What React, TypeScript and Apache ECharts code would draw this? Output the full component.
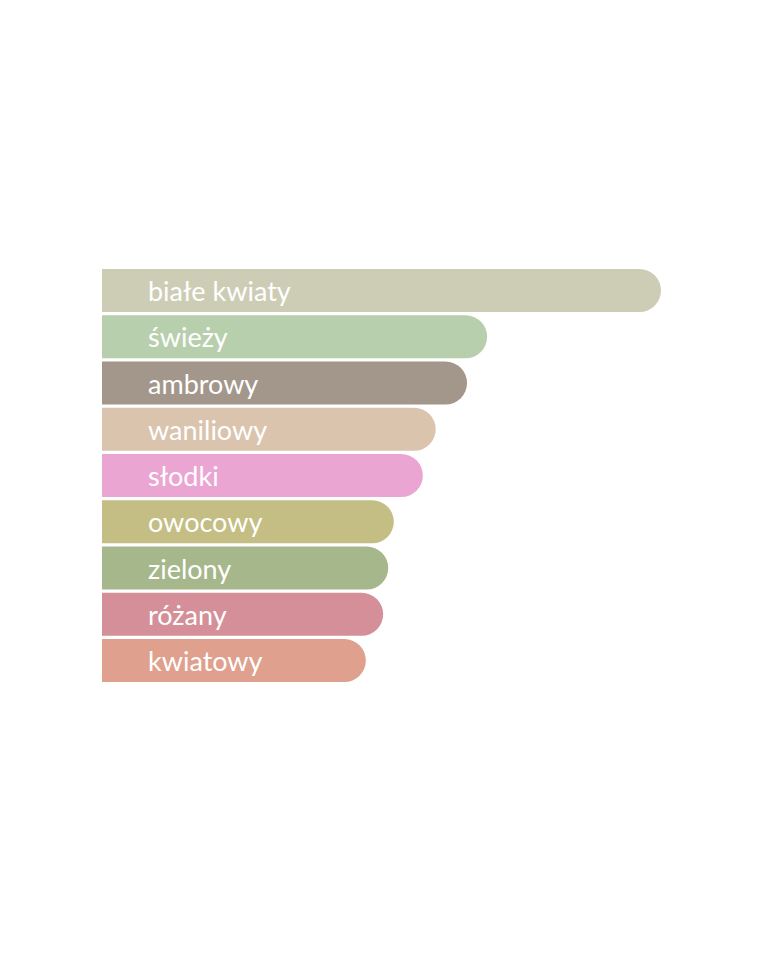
import { useEffect, useRef } from 'react'
import * as echarts from 'echarts'

const categories = [
  'białe kwiaty',
  'świeży',
  'ambrowy',
  'waniliowy',
  'słodki',
  'owocowy',
  'zielony',
  'różany',
  'kwiatowy'
]

const values = [100, 68.9, 65.3, 59.7, 57.4, 52.2, 51.2, 50.3, 47.2]

const colors = [
  '#CDCDB6',
  '#B8CFAD',
  '#A3968A',
  '#DAC4AD',
  '#EBA5D3',
  '#C4BD84',
  '#A6B78B',
  '#D48F98',
  '#DFA08D'
]

export default function App() {
  const chartRef = useRef<HTMLDivElement | null>(null)

  useEffect(() => {
    if (!chartRef.current) return
    const chart = echarts.init(chartRef.current, null, { renderer: 'svg' })

    chart.setOption({
      animation: false,
      backgroundColor: '#ffffff',
      grid: { left: 102, right: 107, top: 267.4, height: 416.3 },
      xAxis: {
        type: 'value',
        min: 0,
        max: 100,
        show: false
      },
      yAxis: {
        type: 'category',
        data: categories,
        inverse: true,
        show: false
      },
      series: [
        {
          type: 'bar',
          barCategoryGap: '7%',
          data: values.map((v, i) => ({
            value: v,
            itemStyle: { color: colors[i] }
          })),
          itemStyle: { borderRadius: [0, 22, 22, 0] },
          label: {
            show: true,
            position: 'insideLeft',
            distance: 46,
            formatter: '{b}',
            color: '#ffffff',
            fontFamily: 'Lato',
            fontSize: 27,
            padding: [4, 0, 0, 0]
          }
        }
      ]
    })

    return () => chart.dispose()
  }, [])

  return (
    <div
      ref={chartRef}
      style={{ position: 'absolute', left: 0, top: 0, width: 768, height: 953 }}
    />
  )
}
